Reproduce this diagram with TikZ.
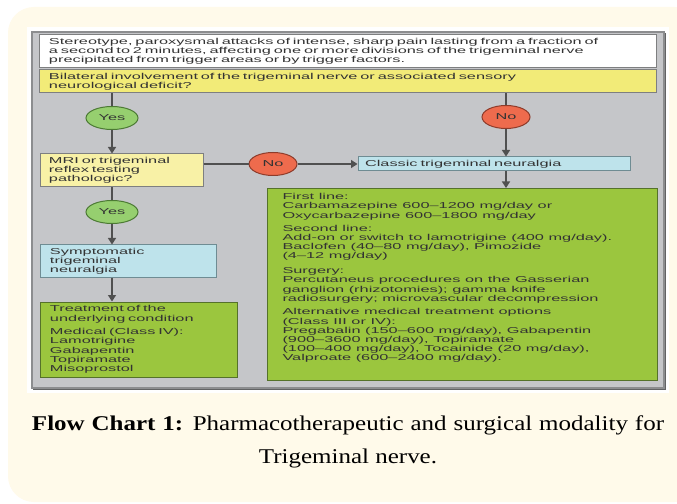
\documentclass[tikz,border=0pt]{standalone}
\usepackage{fontspec}
\setmainfont{Liberation Serif}
\newfontfamily\chartfont[FakeStretch=1.9]{Liberation Sans}
\newfontfamily\capfont[FakeStretch=1.19]{Liberation Serif}
\usetikzlibrary{arrows.meta,shapes.geometric}
\definecolor{cream}{HTML}{FFFAEA}
\definecolor{panel}{HTML}{C5C6C9}
\definecolor{panelline}{HTML}{8C8D8F}
\definecolor{boxline}{HTML}{7E7F80}
\definecolor{yelA}{HTML}{F2EB78}
\definecolor{yelB}{HTML}{F8F1A6}
\definecolor{bluebox}{HTML}{BEE3EB}
\definecolor{bluebline}{HTML}{6F8C93}
\definecolor{greenbox}{HTML}{9BC63E}
\definecolor{greenline}{HTML}{55722A}
\definecolor{yesfill}{HTML}{96CF6F}
\definecolor{yesline}{HTML}{4C7A34}
\definecolor{nofill}{HTML}{EE6B4D}
\definecolor{noline}{HTML}{8E3B2A}
\definecolor{txt}{HTML}{333333}
\definecolor{conncol}{HTML}{505050}
\tikzset{
  chartbox/.style={draw=boxline, line width=1bp, inner xsep=9bp, inner ysep=0bp,
    align=left, text=txt, font=\chartfont\fontsize{8.6bp}{9.2bp}\selectfont},
  decision/.style={ellipse, minimum width=52bp, minimum height=23bp, inner sep=0bp,
    line width=1bp, text=txt, font=\chartfont\fontsize{8.6bp}{9.2bp}\selectfont},
  yesnode/.style={decision, draw=yesline, fill=yesfill},
  nonode/.style={decision, draw=noline, fill=nofill, minimum width=48bp},
  conn/.style={draw=conncol, line width=1.3bp},
  arr/.style={conn, -{Triangle[length=6.5bp,width=8bp]}},
  captext/.style={font=\capfont\fontsize{21bp}{24bp}\selectfont, inner sep=0bp, text=black},
}
\begin{document}
\begin{tikzpicture}[x=1bp,y=-1bp]
\useasboundingbox (0,0) rectangle (677,504);
\fill[white] (0,0) rectangle (677,504);
\fill[cream, rounded corners=26bp] (8,7) rectangle (700,502);
\fill[white] (27,27) rectangle (669,393);
\draw[panelline, line width=1.2bp, fill=panel] (32,32) rectangle (664,388);
\draw[panelline!70!black, line width=1bp] (665.5,33) -- (665.5,389.5) -- (33,389.5);

\node[chartbox, fill=white, minimum height=33bp, text width=598bp] (top) at (348,51.5)
 {Stereotype, paroxysmal attacks of intense, sharp pain lasting from a fraction of\\
  a second to 2 minutes, affecting one or more divisions of the trigeminal nerve\\
  precipitated from trigger areas or by trigger factors.};
\node[chartbox, fill=yelA, minimum height=23bp, text width=598bp] (bilat) at (348,81.5)
 {Bilateral involvement of the trigeminal nerve or associated sensory\\
  neurological deficit?};

\node[yesnode] (yes1) at (112,118) {Yes};
\node[nonode] (no1) at (506,117) {No};

\node[chartbox, fill=yelB, inner xsep=8bp, minimum height=33bp, text width=146bp] (mri) at (122,170.5)
 {MRI or trigeminal\\ reflex testing\\ pathologic?};
\node[nonode] (no2) at (273,164) {No};
\node[chartbox, fill=bluebox, draw=bluebline, inner xsep=7bp, minimum height=14bp, text width=258bp] (classic) at (494,164)
 {Classic trigeminal neuralgia};

\node[yesnode] (yes2) at (112,212) {Yes};
\node[chartbox, fill=bluebox, draw=bluebline, minimum height=32bp, text width=157bp] (symp) at (128.5,261)
 {Symptomatic\\ trigeminal\\ neuralgia};
\node[chartbox, fill=greenbox, draw=greenline, minimum height=75bp, text width=178bp] (treat) at (139,339.5)
 {Treatment of the\\ underlying condition\\[4.5bp]
  Medical (Class IV):\\ Lamotrigine\\ Gabapentin\\ Topiramate\\ Misoprostol};

\node[chartbox, fill=greenbox, draw=greenline, anchor=north west, inner xsep=15bp, inner ysep=5bp] (green) at (267,188)
 {\parbox[t][182bp][t]{360bp}{\raggedright
  First line:\\
  Carbamazepine 600–1200 mg/day or\\
  Oxycarbazepine 600–1800 mg/day\\[4bp]
  Second line:\\
  Add-on or switch to lamotrigine (400 mg/day).\\
  Baclofen (40–80 mg/day), Pimozide\\
  (4–12 mg/day)\\[5.5bp]
  Surgery:\\
  Percutaneus procedures on the Gasserian\\
  ganglion (rhizotomies); gamma knife\\
  radiosurgery; microvascular decompression\\[4.5bp]
  Alternative medical treatment options\\
  (Class III or IV):\\
  Pregabalin (150–600 mg/day), Gabapentin\\
  (900–3600 mg/day), Topiramate\\
  (100–400 mg/day), Tocainide (20 mg/day),\\
  Valproate (600–2400 mg/day).}};

\draw[conn] (bilat.south -| yes1) -- (yes1);
\draw[arr] (yes1) -- (mri.north -| yes1);
\draw[conn] (bilat.south -| no1) -- (no1);
\draw[arr] (no1) -- (classic.north -| no1);
\draw[arr] (classic.south -| no1) -- (green.north -| no1);
\draw[conn] (mri.east |- no2) -- (no2);
\draw[arr] (no2) -- (classic.west |- no2);
\draw[conn] (mri.south -| yes2) -- (yes2);
\draw[arr] (yes2) -- (symp.north -| yes2);
\draw[arr] (symp.south -| yes2) -- (treat.north -| yes2);

\node[captext] (cap1) at (348,425)
 {\makebox[632bp][s]{\textbf{Flow Chart 1:} Pharmacotherapeutic and surgical modality for}};
\node[captext] (cap2) at (348,458)
 {Trigeminal nerve.};
\end{tikzpicture}
\end{document}
